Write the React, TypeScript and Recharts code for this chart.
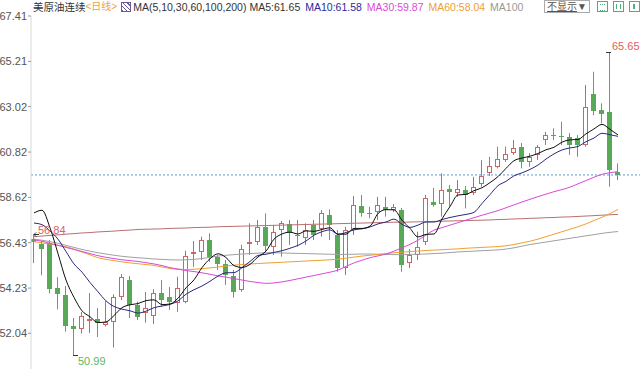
import React from "react";
import {
  ComposedChart,
  Bar,
  Line,
  XAxis,
  YAxis,
  ReferenceLine,
  ReferenceDot
} from "recharts";

// daily candles
const OPEN = [
  56.59, 56.36, 56.41, 54.23, 53.89, 52.39, 52.25, 52.62, 52.72, 52.46,
  52.6, 53.81, 54.62, 53.41, 53.03, 52.88, 54.0, 53.78, 53.5, 53.55,
  55.88, 55.99, 56.56, 55.72, 55.4, 54.81, 54.14, 56.36, 56.44, 57.17,
  56.22, 57.03, 57.34, 56.82, 56.68, 57.28, 57.09, 57.77, 56.8, 55.19,
  57.04, 58.2, 57.88, 57.91, 58.17, 58.01, 58.01, 55.44, 55.83, 56.46,
  58.4, 58.3, 59.01, 58.82, 58.98, 58.82, 59.27, 59.79, 60.11, 60.43,
  60.76, 61.05, 60.35, 60.68, 61.4, 61.66, 61.62, 61.56, 61.48, 61.16,
  63.63, 62.86, 62.77, 59.87
];
const HIGH = [
  56.84, 56.51, 56.56, 54.76, 54.33, 52.78, 53.07, 53.99, 53.26, 53.6,
  53.93, 54.91, 54.81, 53.57, 54.04, 54.18, 54.62, 54.28, 54.78, 56.04,
  56.51, 56.72, 56.88, 55.83, 55.59, 55.1, 56.32, 57.37, 57.53, 57.85,
  57.28, 57.48, 57.53, 57.53, 57.37, 57.53, 58.01, 58.04, 57.04, 57.2,
  58.69, 58.74, 58.17, 58.65, 58.65, 58.3, 58.11, 56.12, 56.96, 58.74,
  59.08, 59.79, 59.22, 59.46, 59.17, 59.62, 60.43, 60.59, 61.08, 61.08,
  61.4, 61.26, 60.77, 61.16, 61.8, 61.97, 62.29, 61.74, 61.64, 64.07,
  64.71, 63.18, 65.65, 60.27
];
const LOW = [
  55.44, 54.85, 53.97, 53.2, 52.12, 50.99, 52.03, 52.05, 51.86, 52.37,
  51.35, 53.65, 52.78, 52.68, 52.55, 52.49, 53.33, 53.17, 53.08, 53.49,
  55.26, 55.59, 55.5, 55.1, 54.38, 53.77, 54.05, 55.83, 56.32, 56.0,
  55.83, 55.75, 56.32, 56.23, 56.32, 56.56, 56.72, 56.56, 55.02, 54.86,
  56.8, 57.69, 57.61, 57.53, 57.69, 57.91, 55.02, 55.2, 55.59, 56.32,
  58.17, 57.69, 58.17, 58.65, 58.09, 58.74, 59.14, 59.66, 60.03, 60.34,
  60.68, 60.03, 60.11, 60.43, 61.16, 61.4, 61.16, 60.68, 60.59, 61.08,
  62.61, 62.21, 59.14, 59.46
];
const CLOSE = [
  56.46, 56.12, 54.18, 53.94, 52.41, 52.25, 52.89, 52.73, 52.52, 52.58,
  53.78, 54.79, 53.41, 52.84, 53.26, 54.01, 53.63, 53.55, 54.23, 55.77,
  55.99, 56.56, 55.72, 55.4, 54.86, 54.05, 56.11, 56.47, 57.2, 56.29,
  56.93, 57.38, 56.88, 56.78, 57.04, 56.82, 57.85, 57.28, 55.19, 57.04,
  58.25, 57.85, 57.82, 58.25, 57.99, 58.17, 55.35, 55.83, 56.23, 58.59,
  58.25, 58.98, 58.87, 59.01, 58.74, 59.14, 59.67, 60.14, 60.47, 60.71,
  61.0, 60.35, 60.59, 61.08, 61.64, 61.61, 61.57, 61.16, 61.16, 62.99,
  62.82, 62.66, 59.95, 59.71
];

// moving averages as drawn
const MA5 = [
  57.87, 58.0, 57.15, 55.9, 54.62, 53.78, 53.13, 52.84, 52.56, 52.59,
  52.9, 53.28, 53.42, 53.48, 53.62, 53.66, 53.43, 53.46, 53.74, 54.24,
  54.63, 55.22, 55.65, 55.89, 55.71, 55.32, 55.23, 55.38, 55.74, 56.02,
  56.6, 56.85, 56.94, 56.85, 57.0, 56.98, 57.07, 57.15, 56.84, 56.84,
  57.12, 57.12, 57.23, 57.84, 58.03, 58.02, 57.52, 57.12, 56.71, 56.83,
  56.85, 57.58, 58.18, 58.74, 58.77, 58.95, 59.09, 59.34, 59.63, 60.03,
  60.4, 60.53, 60.62, 60.75, 60.93, 61.05, 61.3, 61.41, 61.43, 61.7,
  61.94, 62.16, 61.92, 61.65
];
const MA10 = [
  57.38, 57.3, 57.0, 56.6, 56.0, 55.4, 55.0, 54.5, 54.05, 53.61,
  53.34, 53.21, 53.13, 53.02, 53.11, 53.28, 53.36, 53.44, 53.61, 53.93,
  54.15, 54.33, 54.56, 54.81, 54.97, 54.98, 55.22, 55.52, 55.81, 55.87,
  55.96, 56.04, 56.16, 56.3, 56.51, 56.79, 56.96, 57.05, 56.84, 56.92,
  57.05, 57.1, 57.19, 57.34, 57.43, 57.57, 57.32, 57.17, 57.28, 57.43,
  57.43, 57.55, 57.65, 57.73, 57.8, 57.9, 58.33, 58.76, 59.19, 59.4,
  59.67, 59.81, 59.98, 60.19, 60.48, 60.73, 60.92, 61.02, 61.09, 61.32,
  61.5, 61.73, 61.66, 61.58
];
const MA30 = [
  56.56, 56.5, 56.4, 56.3, 56.2, 56.1, 56.0, 55.9, 55.8, 55.72,
  55.66, 55.6, 55.56, 55.52, 55.46, 55.4, 55.32, 55.22, 55.15, 55.08,
  55.03, 54.97, 54.9, 54.82, 54.76, 54.69, 54.62, 54.55, 54.5, 54.46,
  54.48, 54.53, 54.6, 54.68, 54.76, 54.84, 54.92, 55.0, 55.1, 55.28,
  55.45, 55.58, 55.7, 55.79, 55.88, 56.02, 56.18, 56.35, 56.55, 56.8,
  57.04, 57.16, 57.28, 57.4, 57.52, 57.64, 57.76, 57.87, 57.98, 58.12,
  58.26, 58.4, 58.53, 58.66, 58.78, 58.9, 59.0, 59.12, 59.28, 59.44,
  59.6, 59.74, 59.82, 59.87
];
const MA60 = [
  56.48, 56.42, 56.36, 56.3, 56.23, 56.12, 55.98, 55.84, 55.7, 55.62,
  55.56, 55.5, 55.45, 55.41, 55.37, 55.33, 55.25, 55.18, 55.14, 55.13,
  55.14, 55.17, 55.21, 55.25, 55.3, 55.34, 55.37, 55.4, 55.42, 55.44,
  55.46, 55.48, 55.5, 55.52, 55.54, 55.56, 55.58, 55.6, 55.63, 55.68,
  55.73, 55.78, 55.82, 55.86, 55.9, 55.94, 55.97, 56.0, 56.02, 56.05,
  56.07, 56.09, 56.11, 56.13, 56.16, 56.18, 56.2, 56.22, 56.24, 56.28,
  56.34, 56.42, 56.5, 56.6, 56.72, 56.84, 56.96, 57.08, 57.2, 57.34,
  57.5, 57.66, 57.84, 58.04
];
const MA100 = [
  56.6, 56.55, 56.48, 56.4, 56.3, 56.2, 56.1, 56.02, 55.94, 55.88,
  55.82, 55.77, 55.73, 55.7, 55.67, 55.64, 55.62, 55.6, 55.59, 55.6,
  55.62, 55.66, 55.72, 55.78, 55.82, 55.85, 55.88, 55.9, 55.92, 55.94,
  55.94, 55.93, 55.92, 55.91, 55.9, 55.89, 55.88, 55.87, 55.86, 55.86,
  55.87, 55.88, 55.88, 55.87, 55.86, 55.85, 55.85, 55.86, 55.87, 55.88,
  55.9, 55.92, 55.95, 55.98, 56.0, 56.02, 56.04, 56.06, 56.08, 56.12,
  56.18, 56.26, 56.34, 56.4, 56.46, 56.52, 56.58, 56.64, 56.7, 56.76,
  56.82, 56.88, 56.93, 56.97
];
const MA200 = [
  56.72, 56.75, 56.78, 56.81, 56.84, 56.87, 56.9, 56.92, 56.95, 56.97,
  56.99, 57.02, 57.04, 57.07, 57.08, 57.09, 57.1, 57.12, 57.13, 57.14,
  57.16, 57.17, 57.18, 57.2, 57.21, 57.22, 57.23, 57.24, 57.25, 57.26,
  57.27, 57.28, 57.29, 57.3, 57.31, 57.32, 57.33, 57.34, 57.35, 57.36,
  57.37, 57.38, 57.39, 57.4, 57.41, 57.42, 57.42, 57.43, 57.44, 57.45,
  57.46, 57.47, 57.48, 57.49, 57.5, 57.51, 57.52, 57.53, 57.55, 57.56,
  57.58, 57.59, 57.61, 57.62, 57.64, 57.65, 57.67, 57.68, 57.7, 57.72,
  57.74, 57.76, 57.78, 57.8
];

const Y_TICKS = [52.04, 54.23, 56.43, 58.62, 60.82, 63.02, 65.21, 67.41];
const LAST_PRICE = 59.71;

const UP = "#cc6666";
const DOWN = "#57a957";

const data = CLOSE.map((close, i) => ({
  day: i + 1,
  open: OPEN[i],
  high: HIGH[i],
  low: LOW[i],
  close,
  range: [LOW[i], HIGH[i]],
  ma5: MA5[i],
  ma10: MA10[i],
  ma30: MA30[i],
  ma60: MA60[i],
  ma100: MA100[i],
  ma200: MA200[i]
}));

function Candle(props: any) {
  const { x, y, width, height, payload } = props;
  if (!payload) return null;
  const { open, close, high, low } = payload;
  const top = Math.min(y, y + height);
  const h = Math.abs(height);
  const k = h / (high - low || 1);
  const bt = Math.round(top + (high - Math.max(open, close)) * k);
  const bb = Math.max(Math.round(top + (high - Math.min(open, close)) * k), bt + 1);
  const cx = Math.floor(x + width / 2);
  const up = close >= open;
  const color = up ? UP : DOWN;
  return (
    <g>
      <line x1={cx + 0.5} x2={cx + 0.5} y1={top} y2={top + h} stroke={color} />
      {up ? (
        <rect
          x={cx - 1.5}
          y={bt + 0.5}
          width={4}
          height={Math.max(bb - bt - 1, 0)}
          fill="#fff"
          stroke={color}
        />
      ) : (
        <rect x={cx - 2} y={bt} width={5} height={bb - bt} fill={color} />
      )}
    </g>
  );
}

// little marker + value label at an extreme
function mark(text: string, color: string, x1: number, x2: number, dx: number, dy: number, arrow = false) {
  return (p: any) => {
    const cy = Math.round(p.cy) + 0.5;
    return (
      <g>
        <line x1={p.cx + x1} x2={p.cx + x2} y1={cy} y2={cy} stroke="#333" />
        {arrow && (
          <path d={`M${p.cx + x1 + 2},${cy - 2} L${p.cx + x1},${cy} L${p.cx + x1 + 2},${cy + 2}`} stroke="#333" fill="none" />
        )}
        <text x={p.cx + dx} y={p.cy + dy} fill={color} fontSize={11}>
          {text}
        </text>
      </g>
    );
  };
}

const iconBox: React.CSSProperties = {
  position: "absolute",
  top: 1,
  width: 11,
  height: 11,
  border: "1px solid #4caf7a",
  boxSizing: "border-box"
};

export default function App() {
  return (
    <div
      style={{
        position: "absolute",
        left: 0,
        top: 0,
        width: 640,
        height: 370,
        background: "#fff",
        overflow: "hidden",
        fontFamily: '"Liberation Sans", Arial, "Noto Sans CJK SC", sans-serif'
      }}
    >
      <ComposedChart
        width={640}
        height={370}
        data={data}
        margin={{ top: 16, right: 0, bottom: 1, left: 0 }}
      >
        <XAxis dataKey="day" type="number" domain={[0.625, 76.75]} hide />
        <YAxis
          type="number"
          domain={[50.31, 67.41]}
          ticks={Y_TICKS}
          interval={0}
          width={31}
          tickSize={3}
          tickMargin={1}
          axisLine={{ stroke: "#d8d8d8" }}
          tickLine={{ stroke: "#999" }}
          tick={{ fontSize: 11, fill: "#555" }}
          allowDataOverflow
        />
        <ReferenceLine y={LAST_PRICE} stroke="#5b9bd5" strokeDasharray="2 2" />
        <Bar
          dataKey="range"
          barSize={5}
          isAnimationActive={false}
          shape={(p: any) => <Candle {...p} />}
        />
        <Line type="monotone" dataKey="ma200" stroke="#b87070" strokeWidth={1} dot={false} isAnimationActive={false} />
        <Line type="monotone" dataKey="ma100" stroke="#a0a0a0" strokeWidth={1} dot={false} isAnimationActive={false} />
        <Line type="monotone" dataKey="ma60" stroke="#f0a030" strokeWidth={1} dot={false} isAnimationActive={false} />
        <Line type="monotone" dataKey="ma30" stroke="#d84ad8" strokeWidth={1} dot={false} isAnimationActive={false} />
        <Line type="monotone" dataKey="ma10" stroke="#2a2a80" strokeWidth={1} dot={false} isAnimationActive={false} />
        <Line type="monotone" dataKey="ma5" stroke="#111" strokeWidth={1} dot={false} isAnimationActive={false} />
        <ReferenceDot x={1} y={56.84} r={0} ifOverflow="visible" shape={mark("56.84", "#e06060", 0, 5, 4, 0, true)} />
        <ReferenceDot x={6} y={50.99} r={0} ifOverflow="visible" shape={mark("50.99", "#5cb85c", -1, 4, 4, 10)} />
        <ReferenceDot x={73} y={65.65} r={0} ifOverflow="visible" shape={mark("65.65", "#e06060", -4, 1, 2, -2)} />
      </ComposedChart>

      <div
        style={{
          position: "absolute",
          left: 33,
          top: 0,
          height: 14,
          fontSize: 10.5,
          lineHeight: "14px",
          whiteSpace: "nowrap",
          display: "flex",
          alignItems: "center"
        }}
      >
        <span style={{ color: "#333" }}>美原油连续</span>
        <span style={{ color: "#f0a040", fontSize: 10 }}>&lt;日线&gt;</span>
        <span
          style={{
            display: "inline-block",
            width: 8,
            height: 8,
            border: "1px solid #6a5a9a",
            margin: "0 2px 0 4px",
            background: "repeating-linear-gradient(45deg,#6a5a9a 0 1px,#fff 1px 3px)"
          }}
        />
        <span style={{ color: "#333" }}>MA(5,10,30,60,100,200)</span>
        <span style={{ color: "#333", marginLeft: 3 }}>MA5:61.65</span>
        <span style={{ color: "#2a2a9a", marginLeft: 5 }}>MA10:61.58</span>
        <span style={{ color: "#d84ad8", marginLeft: 5 }}>MA30:59.87</span>
        <span style={{ color: "#f0a030", marginLeft: 5 }}>MA60:58.04</span>
        <span style={{ color: "#999", marginLeft: 5 }}>MA100</span>
      </div>

      <div
        style={{
          position: "absolute",
          left: 544,
          top: 0,
          width: 46,
          height: 13,
          border: "1px solid #aaa",
          boxSizing: "border-box",
          fontSize: 10,
          lineHeight: "11px",
          color: "#555",
          textAlign: "center"
        }}
      >
        <span style={{ textDecoration: "underline" }}>不显示</span>▼
      </div>
      <div style={{ ...iconBox, left: 597 }}>
        <div style={{ margin: 2, height: 5, borderTop: "1px dotted #4caf7a", borderBottom: "1px dotted #4caf7a" }} />
      </div>
      <div style={{ ...iconBox, left: 613 }}>
        <div style={{ margin: "2px 2px", height: 5, borderLeft: "1px solid #4caf7a", borderRight: "1px solid #4caf7a" }} />
      </div>
      <div style={{ ...iconBox, left: 629 }}>
        <div style={{ margin: "2px 3px", height: 5, borderLeft: "2px solid #4caf7a" }} />
      </div>
    </div>
  );
}
